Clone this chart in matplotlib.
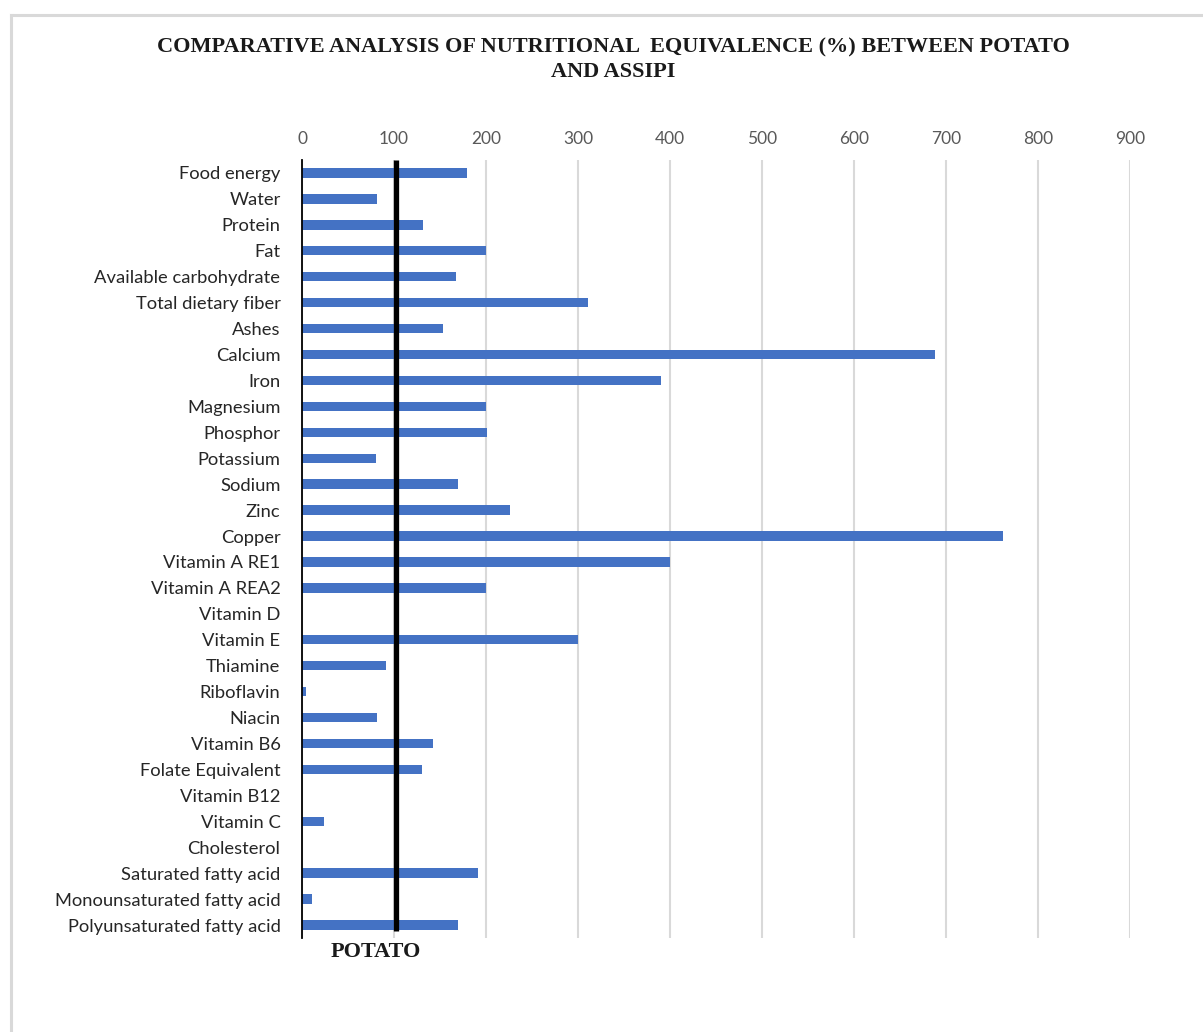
import matplotlib
matplotlib.use("Agg")
import matplotlib.pyplot as plt
from matplotlib.lines import Line2D

# nutrient categories, top to bottom
nutrients = ["Food energy", "Water", "Protein", "Fat", "Available carbohydrate",
             "Total dietary fiber", "Ashes", "Calcium", "Iron", "Magnesium",
             "Phosphor", "Potassium", "Sodium", "Zinc", "Copper",
             "Vitamin A RE1", "Vitamin A REA2", "Vitamin D", "Vitamin E",
             "Thiamine", "Riboflavin", "Niacin", "Vitamin B6",
             "Folate Equivalent", "Vitamin B12", "Vitamin C", "Cholesterol",
             "Saturated fatty acid", "Monounsaturated fatty acid",
             "Polyunsaturated fatty acid"]
# equivalence of assipi relative to potato (%)
equivalence = [179, 82, 132, 200, 167,
               311, 153, 688, 390, 200,
               201, 80, 170, 226, 762,
               400, 200, 0, 300,
               91, 4, 81, 142,
               130, 0, 24, 0,
               191, 11,
               170]
potato_ref = 102
xticks = [0, 100, 200, 300, 400, 500, 600, 700, 800, 900]

W, H = 1203, 1032
fig = plt.figure(figsize=(W / 100, H / 100), dpi=100)
fig.patch.set_facecolor("white")

# light frame round the chart area
fig.add_artist(Line2D([11 / W, 1], [1 - 15 / H, 1 - 15 / H], color="#d9d9d9", lw=2.2))
fig.add_artist(Line2D([11 / W, 11 / W], [0, 1 - 15 / H], color="#d9d9d9", lw=2.2))

n = len(nutrients)
top_px, bot_px = 160, 938
ax = fig.add_axes([302 / W, 1 - bot_px / H, (1130 - 302) / W, (bot_px - top_px) / H])

pos = list(range(n))
ax.barh(pos, equivalence, height=0.36, color="#4472c4", zorder=3)
ax.set_ylim(n - 0.5, -0.5)
ax.set_xlim(0, 900)

ax.set_yticks(pos)
ax.set_yticklabels(nutrients, fontsize=13.2, color="#262626", family="Lato")
ax.set_xticks(xticks)
ax.set_xticklabels([str(v) for v in xticks], fontsize=12.5, color="#595959", family="Lato")
ax.xaxis.tick_top()
ax.tick_params(axis="both", length=0)
ax.tick_params(axis="x", pad=9)
ax.tick_params(axis="y", pad=15.5)

ax.grid(axis="x", color="#d9d9d9", lw=1.5, zorder=0)
for s in ["top", "right", "bottom"]:
    ax.spines[s].set_visible(False)
ax.spines["left"].set_linewidth(1.3)
ax.spines["left"].set_color("black")
ax.spines["left"].set_zorder(4)

# potato reference line
ax.plot([potato_ref, potato_ref], [-0.5, n - 0.76], color="black", lw=3.8, zorder=4,
        solid_capstyle="butt")

fig.text(376 / W, 1 - 952 / H, "POTATO", ha="center", va="center",
         fontsize=16, fontweight="bold", family="Liberation Serif", color="#1a1a1a")

fig.text(613 / W, 1 - 60 / H,
         "COMPARATIVE ANALYSIS OF NUTRITIONAL  EQUIVALENCE (%) BETWEEN POTATO\nAND ASSIPI",
         ha="center", va="center", fontsize=16, fontweight="bold",
         family="Liberation Serif", color="#1a1a1a", linespacing=1.3)

fig.savefig("out.png", dpi=100)
